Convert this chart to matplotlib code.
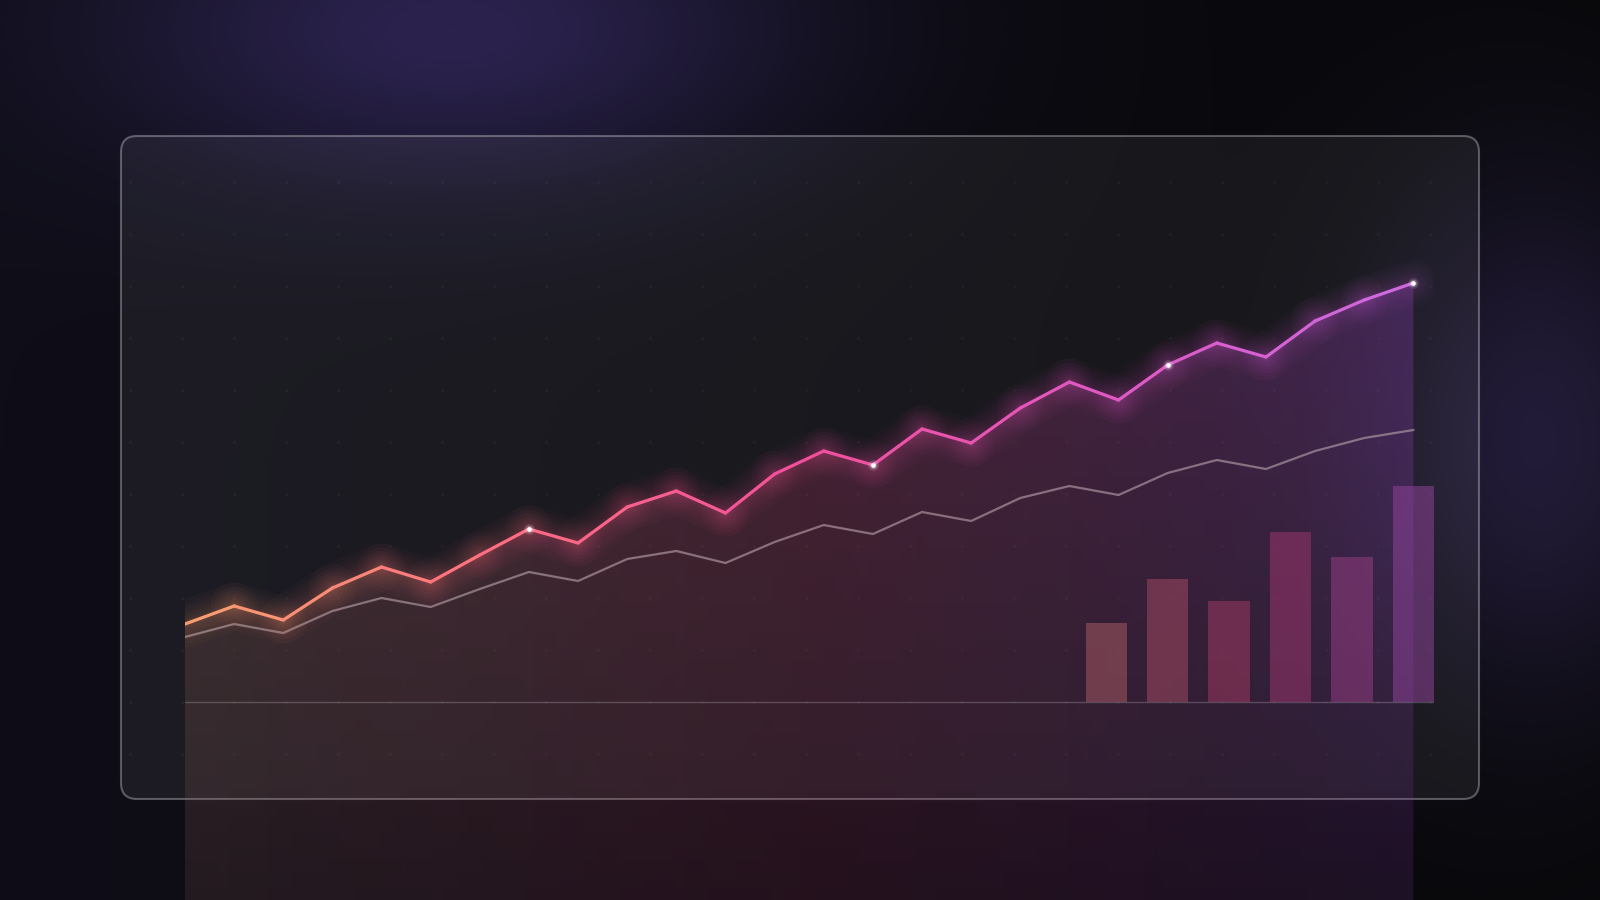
import numpy as np
import matplotlib.pyplot as plt
from matplotlib.collections import LineCollection
from matplotlib.patches import FancyBboxPatch, Polygon
from matplotlib.colors import LinearSegmentedColormap

# values (baseline = 0)
main_vals = [19.5, 24, 20.5, 28.5, 33.75, 30, 36.75, 43.25, 39.75, 48.75, 52.75, 47.25, 57,
             62.75, 59.25, 68.25, 64.75, 73.5, 80, 75.5, 84.25, 89.75, 86.25, 95.25, 100.5, 104.75]
second_vals = [16.25, 19.5, 17.25, 22.75, 26, 23.75, 28.25, 32.5, 30.25, 35.75, 37.75, 34.75, 40,
               44.25, 42, 47.5, 45.25, 51, 54, 51.75, 57.25, 60.5, 58.25, 62.75, 66, 68]
bar_x = [18.75, 20, 21.25, 22.5, 23.75, 25]
bar_vals = [19.75, 30.75, 25.25, 42.5, 36.25, 54]
highlight_idx = [7, 14, 20, 25]

x = np.arange(len(main_vals))
main = np.array(main_vals)
second = np.array(second_vals)

# background with soft glows
H, W = 900, 1600
yy, xx = np.mgrid[0:H, 0:W].astype(float)
t = xx / W
base = np.array([15, 14, 24]) * (1 - t)[..., None] + np.array([8, 8, 10]) * t[..., None]


def glow(cx, cy, rx, ry, col):
    d = ((xx - cx) / rx) ** 2 + ((yy - cy) / ry) ** 2
    return np.exp(-d)[..., None] * np.array(col)


base = base + glow(460, 30, 340, 160, (30, 22, 58))
base = base + glow(1540, 440, 170, 260, (26, 19, 45))
base = np.clip(base / 255, 0, 1)

fig = plt.figure(figsize=(16, 9), dpi=100)
bg = fig.add_axes([0, 0, 1, 1])
bg.imshow(base, extent=(0, 1600, 900, 0), aspect='auto', zorder=0)
bg.set_xlim(0, 1600)
bg.set_ylim(900, 0)
bg.axis('off')

panel = FancyBboxPatch((121, 136), 1358, 663, boxstyle='round,pad=0,rounding_size=16',
                       facecolor=(1, 1, 1, 0.06), edgecolor=(1, 1, 1, 0.3), lw=1.5, zorder=1)
bg.add_patch(panel)
gx, gy = np.meshgrid(np.arange(130, 1440, 52), np.arange(182, 760, 52))
bg.scatter(gx.ravel(), gy.ravel(), s=4, color=(1, 1, 1, 0.045), lw=0, zorder=2)

# data axes
ybot, ytop = -49.5, 125.5
xmax = 25.42
ax = fig.add_axes([185 / 1600, 0, 1249 / 1600, 700 / 900])
ax.axis('off')

# gradient fill under the main line
fill_cmap = LinearSegmentedColormap.from_list('fill', ['#a06a5c', '#b43a66', '#9040b8'])
nx, ny = 400, 300
img = np.zeros((ny, nx, 4))
img[..., :3] = fill_cmap(np.linspace(0, 1, nx))[None, :, :3]
img[..., 3] = np.linspace(0.32, 0.15, ny)[:, None]
im = ax.imshow(img, extent=(0, x[-1], ybot, main.max()), aspect='auto', origin='upper', zorder=1)
verts = list(zip(x, main)) + [(x[-1], ybot), (x[0], ybot)]
clip = Polygon(verts, closed=True, facecolor='none', edgecolor='none', transform=ax.transData)
ax.add_patch(clip)
im.set_clip_path(clip)

ax.axhline(0, color=(1, 1, 1, 0.2), lw=1, zorder=2)

# bars
bar_cmap = LinearSegmentedColormap.from_list('bars', ['#ad5d66', '#a43363', '#95459e'])
bar_cols = bar_cmap(np.linspace(0, 1, len(bar_vals)))
ax.bar(bar_x, bar_vals, width=0.84, color=bar_cols, alpha=0.5, lw=0, zorder=2)

# secondary line
ax.plot(x, second, color='#c8b2ba', alpha=0.55, lw=1.6, zorder=3)

# main line with soft glow
line_cmap = LinearSegmentedColormap.from_list(
    'line', ['#f7a070', '#ff6f80', '#f2509a', '#e058c4', '#cc6ae0'])
segs = [[(x[i], main[i]), (x[i + 1], main[i + 1])] for i in range(len(x) - 1)]
seg_cols = line_cmap((np.arange(len(segs)) + 0.5) / len(segs))
for lw in [34, 28, 23, 18, 14, 10, 7, 5]:
    c = seg_cols.copy()
    c[:, 3] = 0.028
    ax.add_collection(LineCollection(segs, colors=c, linewidths=lw, capstyle='round', zorder=4))
ax.add_collection(LineCollection(segs, colors=seg_cols, linewidths=2.3, capstyle='round',
                                 joinstyle='round', zorder=5))

hx = x[highlight_idx]
hy = main[highlight_idx]
ax.scatter(hx, hy, s=60, color='white', alpha=0.12, lw=0, zorder=6)
ax.scatter(hx, hy, s=28, color='white', alpha=0.25, lw=0, zorder=6)
ax.scatter(hx, hy, s=11, color='white', lw=0, zorder=7)

ax.set_xlim(0, xmax)
ax.set_ylim(ybot, ytop)

fig.savefig('out.png', dpi=100)
